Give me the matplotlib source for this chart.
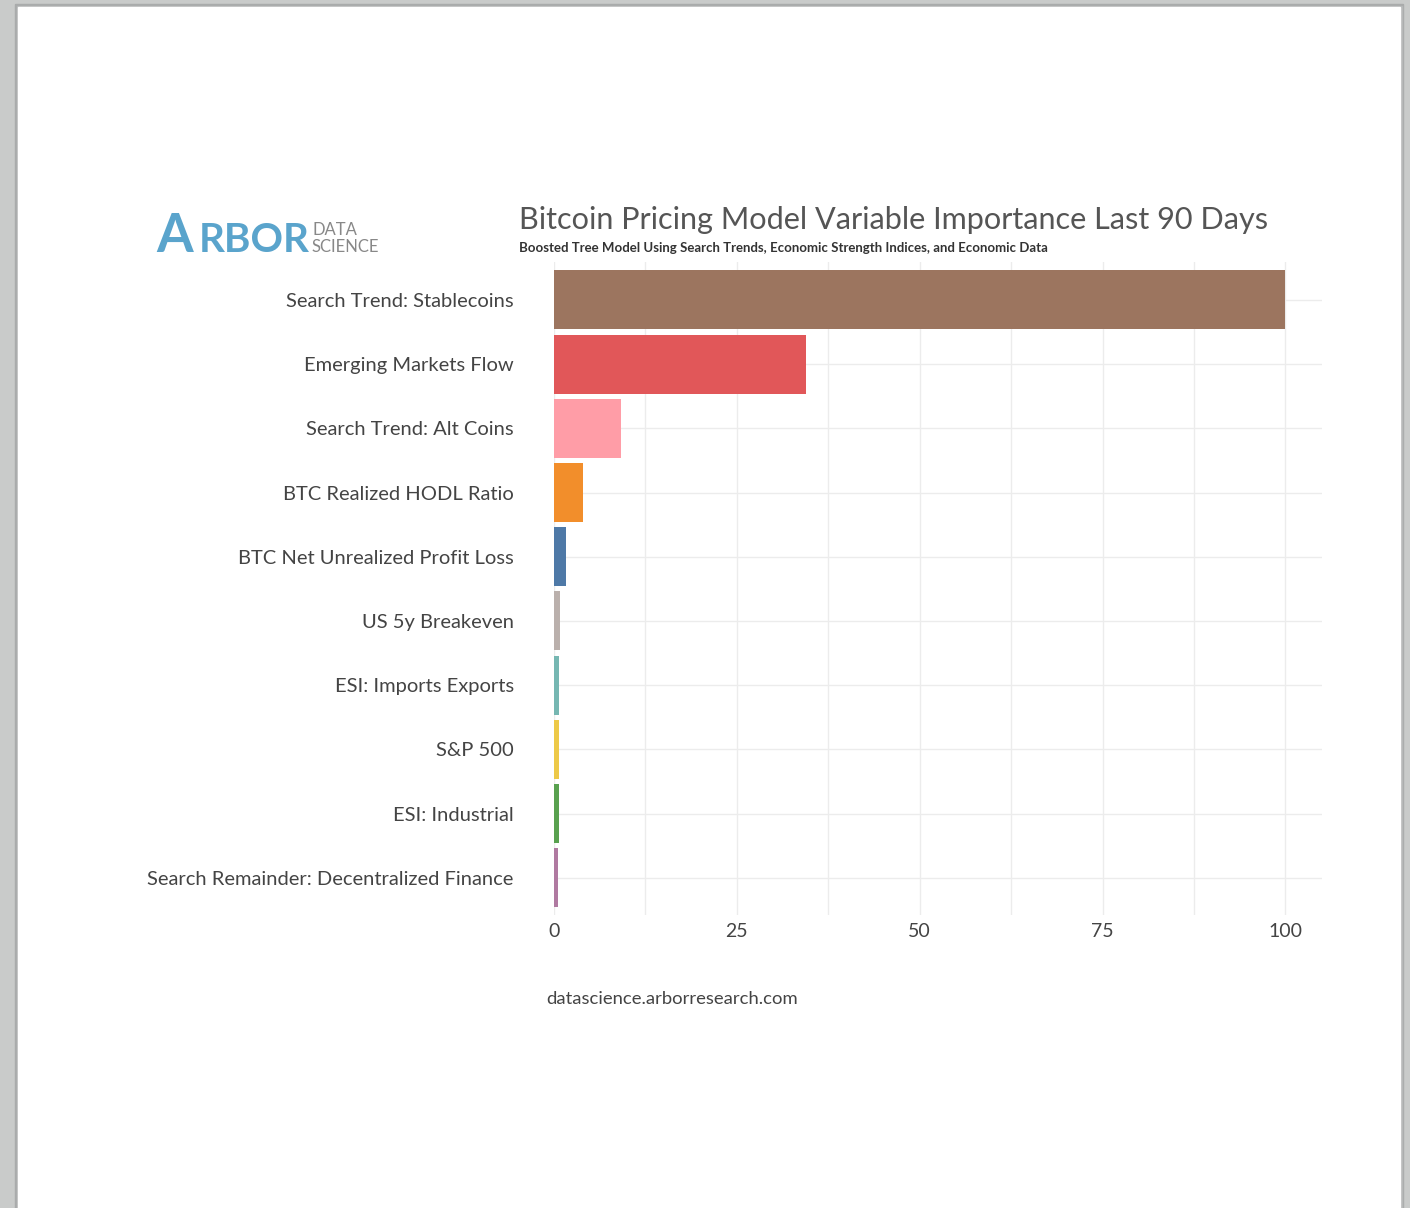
import numpy as np
import matplotlib
matplotlib.use('Agg')
import matplotlib.pyplot as plt
from matplotlib.patches import Rectangle

plt.rcParams['font.family'] = ['Lato', 'DejaVu Sans']

# Variable importance, top to bottom
variables = ['Search Trend: Stablecoins', 'Emerging Markets Flow', 'Search Trend: Alt Coins',
             'BTC Realized HODL Ratio', 'BTC Net Unrealized Profit Loss', 'US 5y Breakeven',
             'ESI: Imports Exports', 'S&P 500', 'ESI: Industrial',
             'Search Remainder: Decentralized Finance']
importance = [100, 34.4, 9.1, 4.0, 1.7, 0.85, 0.75, 0.7, 0.65, 0.6]
bar_colors = ['#9c755f', '#e15759', '#ff9da7', '#f28e2b', '#4e79a7',
              '#bab0ac', '#76b7b2', '#edc948', '#59a14f', '#b07aa1']
x_ticks = [0, 25, 50, 75, 100]

W, H = 1410, 1208
fig = plt.figure(figsize=(W / 100, H / 100), dpi=100)
fig.patch.set_facecolor('#c9cbca')

def px(x0, y0, x1, y1):
    # pixel box -> figure fraction rect
    return (x0 / W, 1 - y1 / H, (x1 - x0) / W, (y1 - y0) / H)

# page shadow + white page
for off, c in [(3, '#a9abab'), (1.5, '#b7b9b9')]:
    x, y, w, h = px(18 - off, 7 - off, 1400 + off, H + 10)
    fig.patches.append(Rectangle((x, y), w, h, transform=fig.transFigure, color=c, zorder=-10))
x, y, w, h = px(18, 7, 1400, H + 10)
fig.patches.append(Rectangle((x, y), w, h, transform=fig.transFigure, color='white', zorder=-9))

ax = fig.add_axes(px(554, 262, 1322, 915))
ax.set_facecolor('none')
pos = np.arange(len(variables))
ax.barh(pos, importance, height=0.92, color=bar_colors, zorder=3)
ax.set_xlim(0, 105)
ax.set_ylim(len(variables) - 0.42, -0.59)
ax.set_xticks(x_ticks)
ax.set_xticks(np.arange(12.5, 100, 25), minor=True)
ax.set_yticks(pos)
ax.set_yticklabels(variables)
ax.grid(True, which='both', axis='x', color='#ececec', lw=1, zorder=0)
ax.grid(True, axis='y', color='#ececec', lw=1, zorder=0)
for s in ax.spines.values():
    s.set_visible(False)
ax.tick_params(axis='both', which='both', length=0)
ax.tick_params(axis='y', labelsize=14.5, labelcolor='#444444', pad=29)
ax.tick_params(axis='x', labelsize=14, labelcolor='#444444', pad=6)

# title block
fig.text(519 / W, 1 - 220 / H, 'Bitcoin Pricing Model Variable Importance Last 90 Days',
         fontsize=22.1, color='#555555', va='center', ha='left')
fig.text(519 / W, 1 - 248 / H, 'Boosted Tree Model Using Search Trends, Economic Strength Indices, and Economic Data',
         fontsize=9.5, color='#333333', weight='bold', va='center', ha='left')

# logo
fig.text(156 / W, 1 - 252 / H, 'A', fontsize=38, color='#5aa4cc', va='baseline', ha='left', weight='bold')
fig.text(199 / W, 1 - 252 / H, 'RBOR', fontsize=29, color='#5aa4cc', va='baseline', ha='left', weight='bold')
fig.text(312 / W, 1 - 235 / H, 'DATA', fontsize=12, color='#888888', va='baseline', ha='left')
fig.text(312 / W, 1 - 252 / H, 'SCIENCE', fontsize=12, color='#888888', va='baseline', ha='left')

fig.text(546 / W, 1 - 999 / H, 'datascience.arborresearch.com', fontsize=13.3, color='#444444',
         va='center', ha='left')

fig.savefig('out.png', dpi=100, facecolor=fig.get_facecolor())
